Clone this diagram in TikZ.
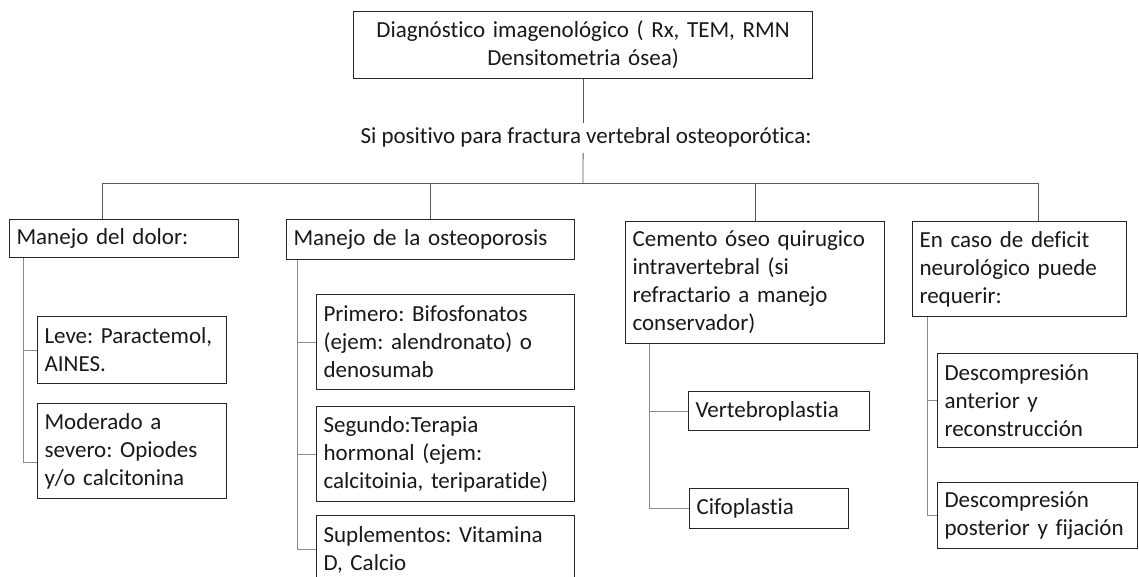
\documentclass[tikz,border=0pt]{standalone}
\usepackage{fontspec}
\setmainfont{Carlito}[Ligatures=NoCommon]
\frenchspacing
\tikzset{
  bx/.style={draw=black!85, line width=1.1pt, anchor=north west, align=left,
    inner xsep=7pt, inner ysep=4pt, font=\fontsize{23}{28}\selectfont, text=black!90},
  mainline/.style={draw=black!65, line width=0.9pt},
  subline/.style={draw=black!45, line width=0.9pt}
}
\begin{document}
\begin{tikzpicture}[x=1pt,y=-1pt]
\clip (0,0) rectangle (1139,576);
\fill[white] (0,0) rectangle (1139,576);
% top
\node[bx, align=center, minimum width=459pt, minimum height=67pt, text width=445pt] (top) at (353,11)
  {Diagnóstico imagenológico ( Rx, TEM, RMN\\Densitometria ósea)};
\node[font=\fontsize{23}{28}\selectfont, text=black!90, inner sep=0pt, minimum height=28pt] (si) at (586,137)
  {Si positivo para fractura vertebral osteoporótica:};
% level 1
\node[bx, minimum width=229pt, minimum height=38pt, text width=215pt] (b1) at (9,219) {\mbox{Manejo del dolor:}};
\node[bx, minimum width=288pt, minimum height=40pt, text width=274pt] (b2) at (286,219) {\mbox{Manejo de la osteoporosis}};
\node[bx, minimum width=259pt, minimum height=122pt, text width=245pt] (b3) at (625,221)
  {\mbox{Cemento óseo quirugico}\\\mbox{intravertebral (si}\\\mbox{refractario a manejo}\\\mbox{conservador)}};
\node[bx, minimum width=214pt, minimum height=95pt, text width=200pt] (b4) at (912,221)
  {\mbox{En caso de deficit}\\\mbox{neurológico puede}\\\mbox{requerir:}};
% children
\node[bx, minimum width=189pt, minimum height=67pt, text width=175pt] (c11) at (37,316)
  {\mbox{Leve: Paractemol,}\\\mbox{AINES.}};
\node[bx, minimum width=189pt, minimum height=95pt, text width=175pt] (c12) at (37,403)
  {\mbox{Moderado a}\\\mbox{severo: Opiodes}\\\mbox{y/o calcitonina}};
\node[bx, minimum width=258pt, minimum height=95pt, text width=244pt] (c21) at (316,294)
  {\mbox{Primero: Bifosfonatos}\\\mbox{(ejem: alendronato) o}\\\mbox{denosumab}};
\node[bx, minimum width=258pt, minimum height=95pt, text width=244pt] (c22) at (316,406)
  {\mbox{Segundo:Terapia}\\\mbox{hormonal (ejem:}\\\mbox{calcitoinia, teriparatide)}};
\node[bx, minimum width=258pt, minimum height=68pt, text width=244pt] (c23) at (316,515)
  {\mbox{Suplementos: Vitamina}\\\mbox{D, Calcio}};
\node[bx, minimum width=181pt, minimum height=39pt, text width=167pt] (c31) at (688,391) {\mbox{Vertebroplastia}};
\node[bx, minimum width=159pt, minimum height=40pt, text width=145pt] (c32) at (689,488) {\mbox{Cifoplastia}};
\node[bx, minimum width=200pt, minimum height=94pt, text width=186pt] (c41) at (937,353)
  {\mbox{Descompresión}\\\mbox{anterior y}\\\mbox{reconstrucción}};
\node[bx, minimum width=200pt, minimum height=66pt, text width=186pt] (c42) at (937,482)
  {\mbox{Descompresión}\\\mbox{posterior y fijación}};
% junction coordinates
\coordinate (bar) at (583,183);
\coordinate (j1) at (102,183);
\coordinate (j4) at (1038,183);
\coordinate (k1) at (23,0);
\coordinate (k2) at (297,0);
\coordinate (k3) at (649,0);
\coordinate (k4) at (927,0);
% main connectors
\draw[mainline] (top.south) -- (top.south |- si.north);
\draw[mainline] ([yshift=-2pt]top.south |- si.south) -- (bar);
\draw[mainline] (j1) -- (j4);
\draw[mainline] (j1) -- (j1 |- b1.north);
\draw[mainline] (b2.north |- bar) -- (b2.north);
\draw[mainline] (b3.north |- bar) -- (b3.north);
\draw[mainline] (j4) -- (j4 |- b4.north);
% child connectors
\draw[subline] (k1 |- b1.south) -- ([yshift=-11pt]k1 |- c12.west) -- ([yshift=-11pt]c12.west);
\draw[subline] (k1 |- c11.west) -- (c11.west);
\draw[subline] (k2 |- b2.south) -- (k2 |- c23.west) -- (c23.west);
\draw[subline] (k2 |- c21.west) -- (c21.west);
\draw[subline] (k2 |- c22.west) -- (c22.west);
\draw[subline] (k3 |- b3.south) -- (k3 |- c32.west) -- (c32.west);
\draw[subline] (k3 |- c31.west) -- (c31.west);
\draw[subline] (k4 |- b4.south) -- (k4 |- c42.west) -- (c42.west);
\draw[subline] (k4 |- c41.west) -- (c41.west);
\end{tikzpicture}
\end{document}
